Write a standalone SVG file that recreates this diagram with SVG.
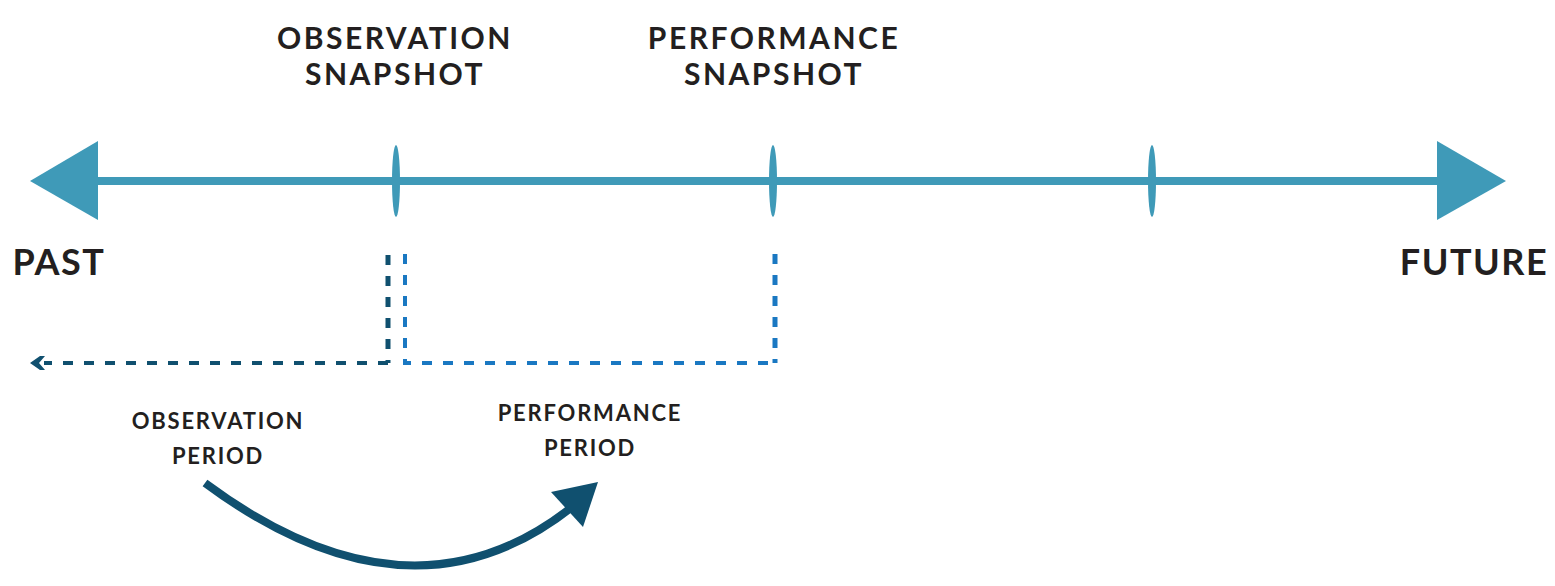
<svg xmlns="http://www.w3.org/2000/svg" width="1555" height="586" viewBox="0 0 1555 586">
<style>
.big{font-family:"Lato","Liberation Sans",sans-serif;font-weight:700;fill:#231f20;text-anchor:middle}
.t1{font-size:30px;letter-spacing:2.5px}
.t2{font-size:36px;letter-spacing:1.5px}
.t3{font-size:22px;letter-spacing:1.8px}
.dd{fill:none;stroke-dasharray:10 11}
</style>
<g id="timeline">
<rect x="96" y="177" width="1343" height="8" fill="#3f9ab8"/>
<polygon points="30,181 98,141 98,220" fill="#3f9ab8"/>
<polygon points="1506,181 1437,141 1437,220" fill="#3f9ab8"/>
<ellipse cx="396" cy="181" rx="4" ry="36" fill="#3f9ab8"/>
<ellipse cx="773" cy="181" rx="4" ry="36" fill="#3f9ab8"/>
<ellipse cx="1152" cy="181" rx="4" ry="36" fill="#3f9ab8"/>
</g>
<g id="labels">
<text class="big t1" x="395" y="49">OBSERVATION</text>
<text class="big t1" x="395" y="85">SNAPSHOT</text>
<text class="big t1" x="774" y="49">PERFORMANCE</text>
<text class="big t1" x="774" y="85">SNAPSHOT</text>
<text class="big t2" x="59" y="275">PAST</text>
<text class="big t2" x="1474" y="275">FUTURE</text>
<text class="big t3" x="218" y="429">OBSERVATION</text>
<text class="big t3" x="218" y="464">PERIOD</text>
<text class="big t3" x="590" y="421">PERFORMANCE</text>
<text class="big t3" x="590" y="456">PERIOD</text>
</g>
<g id="connectors">
<path d="M388,255 V363" class="dd" stroke="#10506f" stroke-width="5"/>
<path d="M388,363 H44" class="dd" stroke="#10506f" stroke-width="4"/>
<polygon points="30,363 40,356 45,356 39,363 45,370 40,370" fill="#10506f"/>
<path d="M405,254 V363 H775" class="dd" stroke="#1a78c2" stroke-width="4"/>
<path d="M775,254 V363" class="dd" stroke="#1a78c2" stroke-width="5"/>
<path d="M205,483 Q410,635 572,507" fill="none" stroke="#10506f" stroke-width="8"/>
<polygon points="598,482 551,492 583,527" fill="#10506f"/>
</g>
</svg>
